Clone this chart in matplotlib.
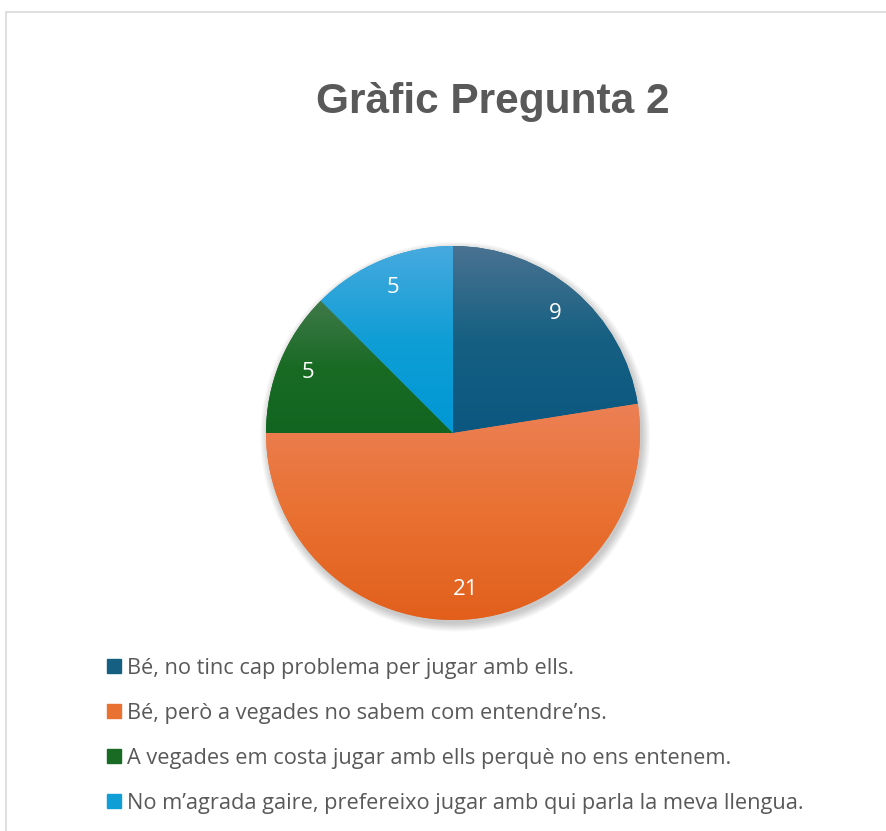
import numpy as np
import matplotlib.pyplot as plt
from matplotlib import colors
from matplotlib.patches import Rectangle, Circle

title = "Gràfic Pregunta 2"
labels = [
    "Bé, no tinc cap problema per jugar amb ells.",
    "Bé, però a vegades no sabem com entendre\u2019ns.",
    "A vegades em costa jugar amb ells perquè no ens entenem.",
    "No m\u2019agrada gaire, prefereixo jugar amb qui parla la meva llengua.",
]
values = [9, 21, 5, 5]
base_colors = ["#156082", "#E97132", "#196B24", "#0F9ED5"]
top_colors = ["#4A7291", "#EC8055", "#40794A", "#47AADF"]
bottom_colors = ["#0B5780", "#E25F1B", "#116520", "#0098D6"]

text_grey = "#595959"

fig = plt.figure(figsize=(8.87, 8.31), dpi=100)

# chart frame
fig.patches.append(Rectangle((6 / 887, -0.05), 1.2, (831 - 11.5) / 831 + 0.05,
                             transform=fig.transFigure, fill=False,
                             edgecolor="#d9d9d9", linewidth=1.2))

fig.text(493 / 887, 1 - 102 / 831, title, ha="center", va="center",
         fontsize=30.5, fontweight="bold", color=text_grey,
         family=["Liberation Sans", "DejaVu Sans"])

cx, cy, r = 453, 433, 187
ax = fig.add_axes([(cx - r) / 887, (831 - cy - r) / 831, 2 * r / 887, 2 * r / 831])

# soft shadow
for i in range(8):
    ax.add_patch(Circle((0.012, -0.02), 1.0 + 0.006 * i, color="black",
                        alpha=0.028, lw=0, zorder=0, clip_on=False))

wedges, texts, autotexts = ax.pie(
    values, colors=base_colors, startangle=90, counterclock=False, radius=1,
    autopct=lambda p: f"{p * sum(values) / 100:.0f}", pctdistance=0.84,
    textprops=dict(color="white", fontsize=16, family=["Open Sans", "DejaVu Sans"]),
    wedgeprops=dict(linewidth=0, zorder=1),
)

# vertical gradient fill for each slice
for w, top, bot, base in zip(wedges, top_colors, bottom_colors, base_colors):
    verts = w.get_patch_transform().transform(w.get_path().vertices)
    y0, y1 = verts[:, 1].min(), verts[:, 1].max()
    x0, x1 = verts[:, 0].min(), verts[:, 0].max()
    cmap = colors.LinearSegmentedColormap.from_list("g", [bot, base, top])
    grad = np.linspace(0, 1, 256).reshape(-1, 1)
    im = ax.imshow(grad, cmap=cmap, origin="lower", extent=[x0, x1, y0, y1],
                   aspect="auto", zorder=2, interpolation="bilinear")
    im.set_clip_path(w)
for t in autotexts:
    t.set_zorder(5)
ax.set_xlim(-1, 1)
ax.set_ylim(-1, 1)
ax.set_aspect("equal")
ax.axis("off")

handles = [Rectangle((0, 0), 1, 1, color=c) for c in base_colors]
fig.legend(handles, labels, loc="upper left", bbox_to_anchor=(98 / 887, 1 - 649 / 831),
           frameon=False, labelcolor=text_grey,
           handlelength=0.64, handleheight=0.64, handletextpad=0.3,
           labelspacing=1.1, borderaxespad=0,
           prop=dict(family=["Open Sans", "DejaVu Sans"], size=15.7))

fig.savefig("out.png", dpi=100)
